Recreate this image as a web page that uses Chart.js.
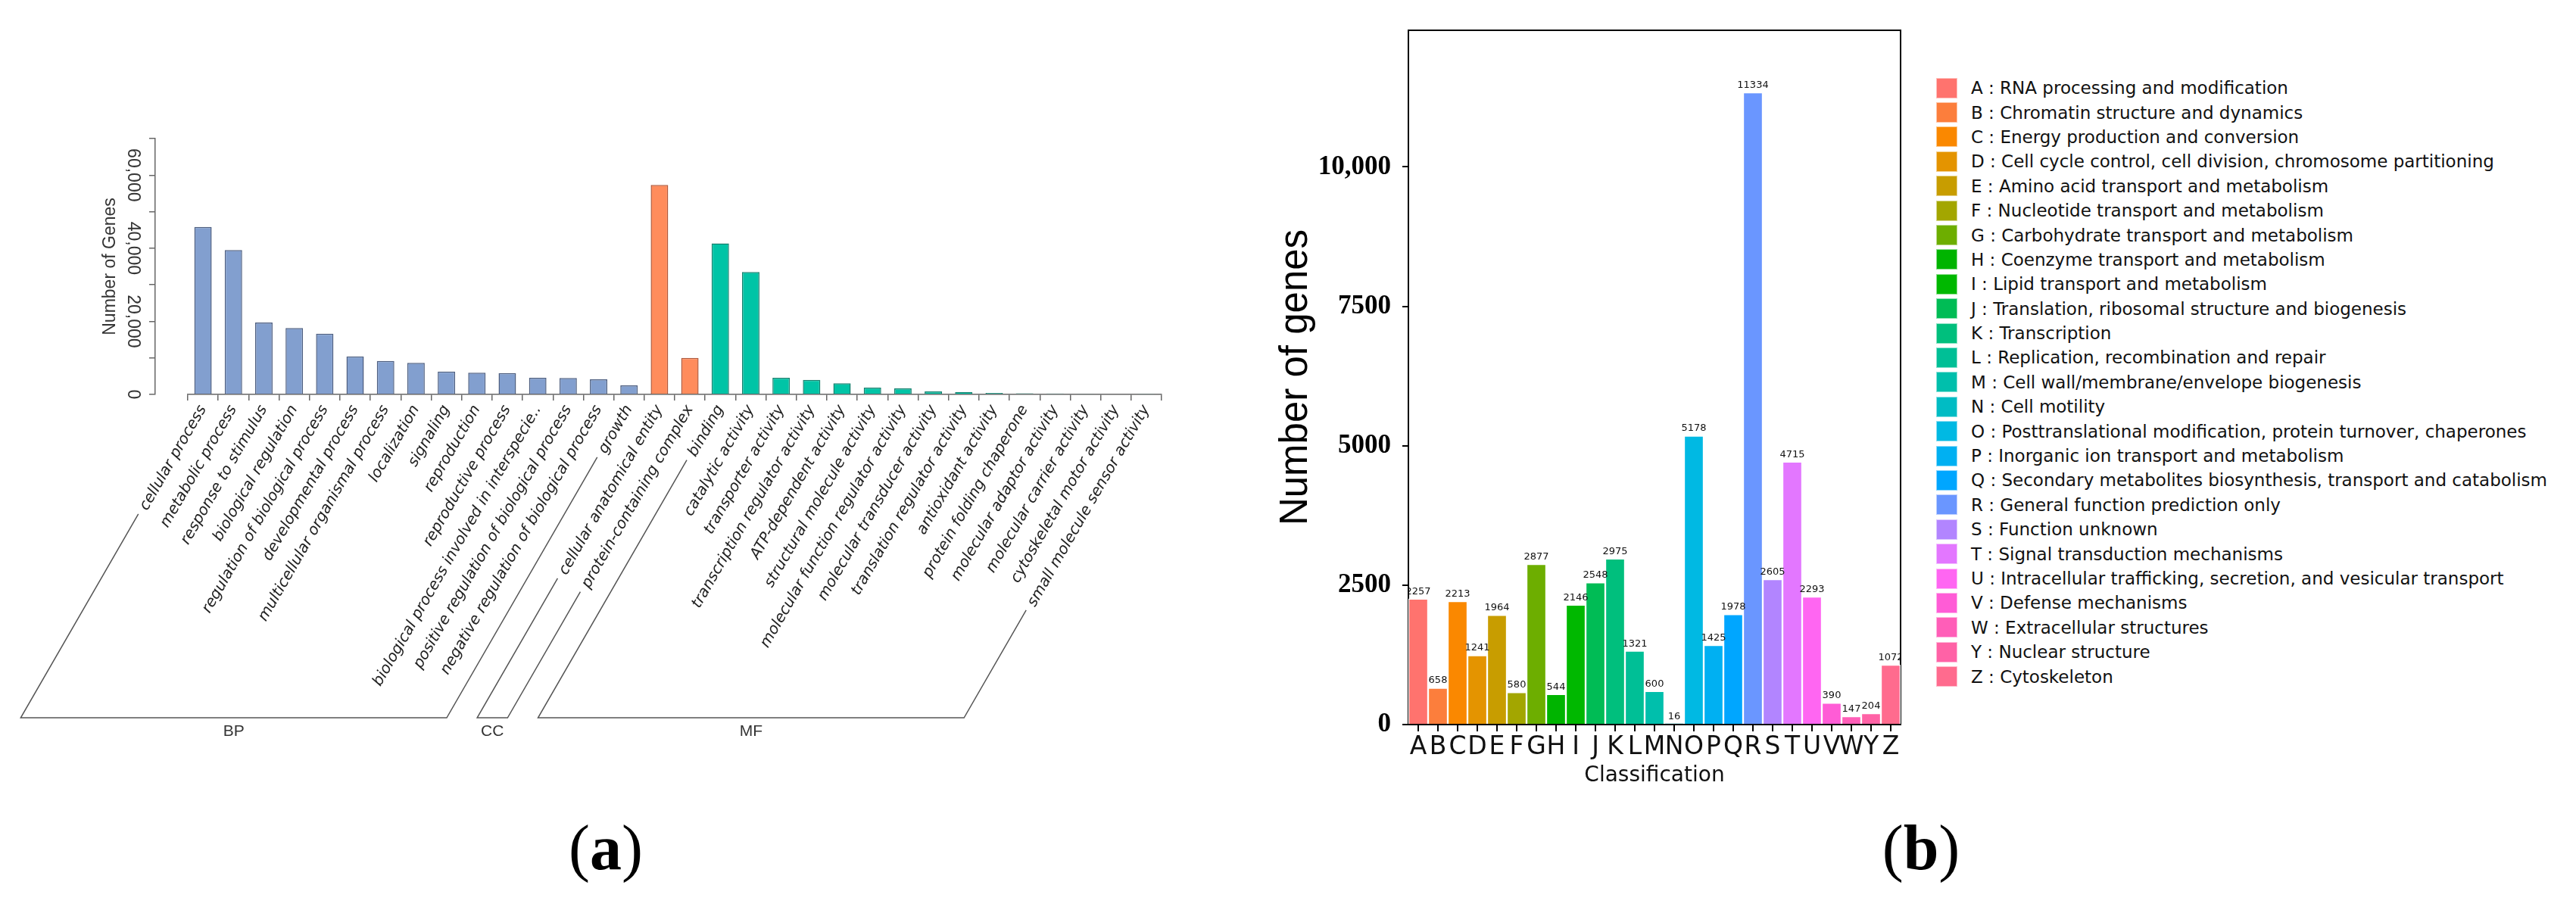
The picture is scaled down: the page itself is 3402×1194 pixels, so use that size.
<!DOCTYPE html>
<html>
<head>
<meta charset="utf-8">
<script src="https://cdn.jsdelivr.net/npm/chart.js@4.4.0/dist/chart.umd.min.js"></script>
<style>
  html, body { margin: 0; padding: 0; background: #fff; }
  body { width: 3402px; height: 1194px; position: relative; overflow: hidden; }
  #goWrap { position: absolute; left: 0; top: 0; width: 1600px; height: 1010px; }
  #cogWrap { position: absolute; left: 1600px; top: 0; width: 930px; height: 1194px; }
  .panel-tag { position: absolute; width: 200px; text-align: center; font-family: "Liberation Serif", serif; font-size: 84px; line-height: 1; color: #000; }
  #cogLegend { position: absolute; left: 2557px; top: 100px; font-family: "DejaVu Sans", sans-serif; font-size: 23px; color: #111; }
  .leg-row { height: 32.4px; display: flex; align-items: center; white-space: nowrap; }
  .leg-box { width: 28px; height: 27px; box-sizing: border-box; border: 1.5px solid rgba(255,255,255,0.55); margin-right: 18px; flex: none; }
</style>
</head>
<body>
<div id="goWrap"><canvas id="goChart"></canvas></div>
<div id="cogWrap"><canvas id="cogChart"></canvas></div>
<div id="cogLegend"></div>
<div class="panel-tag" style="left:700px; top:1078px;">(<b>a</b>)</div>
<div class="panel-tag" style="left:2437px; top:1078px;">(<b>b</b>)</div>

<script>
// ---- (a) GO annotation ----
const bpTerms = [
  "cellular process", "metabolic process", "response to stimulus", "biological regulation",
  "regulation of biological process", "developmental process", "multicellular organismal process",
  "localization", "signaling", "reproduction", "reproductive process",
  "biological process involved in interspecie..", "positive regulation of biological process",
  "negative regulation of biological process", "growth"
];
const bpCounts = [45800, 39500, 19700, 18150, 16600, 10400, 9170, 8630, 6280, 5940, 5870, 4550, 4490, 4140, 2480];

const ccTerms = ["cellular anatomical entity", "protein-containing complex"];
const ccCounts = [57300, 10000];

const mfTerms = [
  "binding", "catalytic activity", "transporter activity", "transcription regulator activity",
  "ATP-dependent activity", "structural molecule activity", "molecular function regulator activity",
  "molecular transducer activity", "translation regulator activity", "antioxidant activity",
  "protein folding chaperone", "molecular adaptor activity", "molecular carrier activity",
  "cytoskeletal motor activity", "small molecule sensor activity"
];
const mfCounts = [41300, 33500, 4550, 4000, 3040, 1860, 1660, 830, 680, 410, 300, 250, 200, 150, 100];

const goGroupNames = ["BP", "CC", "MF"];
const goGroupFill = ["#829FCF", "#FF8C5C", "#00C4A6"];
const goGroupEdge = ["#4E5F80", "#B0583A", "#14806E"];

const goTickValues = [0, 10000, 20000, 30000, 40000, 50000, 60000, 70000];
const goTickText = ["0", "", "20,000", "", "40,000", "", "60,000", ""];

// ---- (b) COG classification ----
const cogCodes = ["A","B","C","D","E","F","G","H","I","J","K","L","M","N","O","P","Q","R","S","T","U","V","W","Y","Z"];
const cogCounts = [2257, 658, 2213, 1241, 1964, 580, 2877, 544, 2146, 2548, 2975, 1321, 600, 16,
                   5178, 1425, 1978, 11334, 2605, 4715, 2293, 390, 147, 204, 1072];
const cogNames = [
  "RNA processing and modification",
  "Chromatin structure and dynamics",
  "Energy production and conversion",
  "Cell cycle control, cell division, chromosome partitioning",
  "Amino acid transport and metabolism",
  "Nucleotide transport and metabolism",
  "Carbohydrate transport and metabolism",
  "Coenzyme transport and metabolism",
  "Lipid transport and metabolism",
  "Translation, ribosomal structure and biogenesis",
  "Transcription",
  "Replication, recombination and repair",
  "Cell wall/membrane/envelope biogenesis",
  "Cell motility",
  "Posttranslational modification, protein turnover, chaperones",
  "Inorganic ion transport and metabolism",
  "Secondary metabolites biosynthesis, transport and catabolism",
  "General function prediction only",
  "Function unknown",
  "Signal transduction mechanisms",
  "Intracellular trafficking, secretion, and vesicular transport",
  "Defense mechanisms",
  "Extracellular structures",
  "Nuclear structure",
  "Cytoskeleton"
];
const cogColors = [
  "#FF736E", "#FC7E3C", "#FA8800", "#E49400", "#C89D00", "#A3A600", "#6DAE00", "#00B400",
  "#00B800", "#00BC55", "#00BF7D", "#00BF96", "#00BFAC", "#00BCC4", "#00B9E3", "#00B0F2",
  "#00A6FF", "#6A96FF", "#B285FF", "#E377FF", "#FF66F2", "#FF5CD6", "#FF5EB8", "#FF62A6", "#FF6B8E"
];
const cogTickValues = [0, 2500, 5000, 7500, 10000];
const cogTickText = ["0", "2500", "5000", "7500", "10,000"];

// --- build the GO table ---
const goLabels = bpTerms.concat(ccTerms, mfTerms);
const goCounts = bpCounts.concat(ccCounts, mfCounts);
const goGroupOf = goLabels.map((_, i) => i < bpTerms.length ? 0 : i < bpTerms.length + ccTerms.length ? 1 : 2);
const goRanges = [
  [0, bpTerms.length - 1],
  [bpTerms.length, bpTerms.length + ccTerms.length - 1],
  [bpTerms.length + ccTerms.length, goLabels.length - 1]
];

const LABEL_ANGLE = 60;
const LABEL_FONT = 'italic 20px "DejaVu Sans"';
const BRACKET_Y = 948;

// brackets under the rotated GO term labels (BP / CC / MF)
const goBrackets = {
  id: "goBrackets",
  afterDraw(chart) {
    const xs = chart.scales.x;
    const ctx = chart.ctx;
    const a = LABEL_ANGLE * Math.PI / 180;
    const dx = -Math.cos(a), dy = Math.sin(a);
    const y0 = xs.top + 10;
    ctx.save();
    ctx.font = LABEL_FONT;
    const tail = (i) => {
      const w = ctx.measureText(goLabels[i]).width + 14;
      const sx = xs.getPixelForTick(i) + dx * w;
      const sy = y0 + dy * w;
      const t = (BRACKET_Y - sy) / dy;
      return { sx, sy, ex: sx + dx * t };
    };
    ctx.strokeStyle = "#555";
    ctx.lineWidth = 1.5;
    ctx.fillStyle = "#333";
    goRanges.forEach((r, g) => {
      const p = tail(r[0]);
      const q = tail(r[1]);
      ctx.beginPath();
      ctx.moveTo(p.sx, p.sy);
      ctx.lineTo(p.ex, BRACKET_Y);
      ctx.lineTo(q.ex, BRACKET_Y);
      ctx.lineTo(q.sx, q.sy);
      ctx.stroke();
      ctx.font = '21px "Liberation Sans"';
      ctx.textAlign = "center";
      ctx.textBaseline = "middle";
      ctx.fillText(goGroupNames[g], (p.ex + q.ex) / 2, BRACKET_Y + 18);
      ctx.font = LABEL_FONT;
    });
    ctx.restore();
  }
};

new Chart(document.getElementById("goChart"), {
  type: "bar",
  data: {
    labels: goLabels,
    datasets: [{
      data: goCounts,
      backgroundColor: goGroupOf.map(g => goGroupFill[g]),
      borderColor: goGroupOf.map(g => goGroupEdge[g]),
      borderWidth: 1.5,
      barPercentage: 0.572,
      categoryPercentage: 1
    }]
  },
  options: {
    responsive: true,
    maintainAspectRatio: false,
    animation: false,
    devicePixelRatio: 1,
    layout: { padding: { top: 183, right: 66, bottom: 0, left: 0 } },
    plugins: { legend: { display: false }, tooltip: { enabled: false } },
    scales: {
      x: {
        grid: { offset: true, drawOnChartArea: false, tickLength: 8, color: "#666", lineWidth: 1.5 },
        border: { color: "#666", width: 1.5 },
        ticks: { autoSkip: false, minRotation: LABEL_ANGLE, maxRotation: LABEL_ANGLE, padding: 2,
                 font: { family: "DejaVu Sans", size: 20, style: "italic" }, color: "#222" },
        afterFit(s) { s.height = 1010 - 521; }
      },
      y: {
        position: "left",
        weight: 2,
        min: 0,
        max: 70000,
        afterBuildTicks(s) { s.ticks = goTickValues.map(v => ({ value: v })); },
        ticks: {
          autoSkip: false, minRotation: -90, maxRotation: -90, crossAlign: "center", padding: -14,
          font: { family: "Liberation Sans", size: 23 }, color: "#333",
          callback: (v) => goTickText[goTickValues.indexOf(v)]
        },
        grid: { drawOnChartArea: false, tickLength: 8, color: "#666", lineWidth: 1.5 },
        border: { color: "#666", width: 1.5 },
        title: { display: true, text: "Number of Genes", color: "#333",
                 font: { family: "Liberation Sans", size: 23 }, padding: { top: 132, bottom: 0 } },
        afterFit(s) { s.width = 205; }
      },
      ySpacer: {
        position: "left",
        weight: 1,
        display: true,
        grid: { display: false },
        border: { display: false },
        ticks: { display: false },
        afterFit(s) { s.width = 43; }
      }
    }
  },
  plugins: [goBrackets]
});

// value labels above COG bars, clipped to the plot box
const cogValueLabels = {
  id: "cogValueLabels",
  afterDatasetsDraw(chart) {
    const { ctx, chartArea } = chart;
    const meta = chart.getDatasetMeta(0);
    ctx.save();
    ctx.beginPath();
    ctx.rect(chartArea.left + 1, chartArea.top, chartArea.right - chartArea.left - 2, chartArea.bottom - chartArea.top);
    ctx.clip();
    ctx.font = '13px "DejaVu Sans"';
    ctx.fillStyle = "#111";
    ctx.textAlign = "center";
    ctx.textBaseline = "bottom";
    meta.data.forEach((bar, i) => {
      ctx.fillText(String(cogCounts[i]), bar.x, bar.y - 3);
    });
    ctx.restore();
  }
};

new Chart(document.getElementById("cogChart"), {
  type: "bar",
  data: {
    labels: cogCodes,
    datasets: [{
      data: cogCounts,
      backgroundColor: cogColors,
      borderColor: "#ffffff",
      borderWidth: 1.5,
      barPercentage: 1,
      categoryPercentage: 1
    }]
  },
  options: {
    responsive: true,
    maintainAspectRatio: false,
    animation: false,
    devicePixelRatio: 1,
    layout: { padding: { top: 40, right: 20, bottom: 0, left: 0 } },
    plugins: { legend: { display: false }, tooltip: { enabled: false } },
    scales: {
      x: {
        position: "bottom",
        grid: { offset: false, drawOnChartArea: false, tickLength: 9, color: "#000", lineWidth: 2 },
        border: { color: "#000", width: 2 },
        ticks: { autoSkip: false, maxRotation: 0, minRotation: 0, padding: 2,
                 font: { family: "DejaVu Sans", size: 33 }, color: "#111" },
        title: { display: true, text: "Classification", color: "#111",
                 font: { family: "DejaVu Sans", size: 28 }, padding: { top: 0, bottom: 152 } },
        afterFit(s) { s.height = 237; }
      },
      xTop: {
        position: "top",
        display: true,
        grid: { display: false },
        ticks: { display: false },
        border: { color: "#000", width: 2 },
        afterFit(s) { s.height = 0; }
      },
      y: {
        position: "left",
        min: 0,
        max: 12450,
        afterBuildTicks(s) { s.ticks = cogTickValues.map(v => ({ value: v })); },
        ticks: {
          autoSkip: false, padding: 15, color: "#000",
          font: { family: "Liberation Serif", size: 35, weight: "bold" },
          callback: (v) => cogTickText[cogTickValues.indexOf(v)]
        },
        grid: { drawOnChartArea: false, tickLength: 8, color: "#000", lineWidth: 2 },
        border: { color: "#000", width: 2 },
        title: { display: true, text: "Number of genes", color: "#000",
                 font: { family: "Liberation Sans", size: 51 }, padding: { top: 81, bottom: 0 } },
        afterFit(s) { s.width = 260; }
      },
      yRight: {
        position: "right",
        display: true,
        grid: { display: false },
        ticks: { display: false },
        border: { color: "#000", width: 2 },
        afterFit(s) { s.width = 0; }
      }
    }
  },
  plugins: [cogValueLabels]
});

// legend for (b)
const legendEl = document.getElementById("cogLegend");
cogCodes.forEach((code, i) => {
  const row = document.createElement("div");
  row.className = "leg-row";
  row.innerHTML = `<span class="leg-box" style="background:${cogColors[i]}"></span><span>${code} : ${cogNames[i]}</span>`;
  legendEl.appendChild(row);
});
</script>
</body>
</html>
